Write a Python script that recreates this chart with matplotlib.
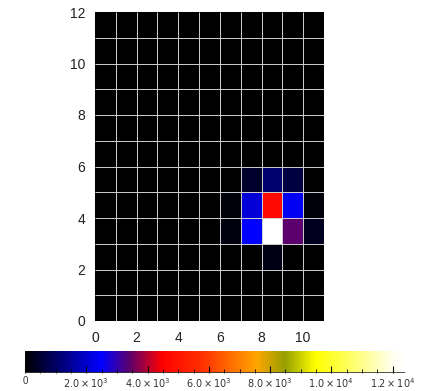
import numpy as np
import matplotlib
matplotlib.use("Agg")
import matplotlib.pyplot as plt
from matplotlib.colors import LinearSegmentedColormap
from matplotlib.ticker import MultipleLocator

plt.rcParams['font.family'] = ['Liberation Sans', 'DejaVu Sans']

# grid size: 11 columns (x 0..11), 12 rows (y 0..12)
n_cols = 11
n_rows = 12

# non-zero cells (column, row, value)
hot_cols = [8, 8, 7, 7, 9, 9, 8, 7, 9, 10, 10, 6, 6, 8]
hot_rows = [3, 4, 4, 3, 4, 3, 5, 5, 5, 3, 4, 3, 4, 2]
hot_vals = [12400, 4700, 2100, 2500, 2400, 3400, 1080, 440, 640, 300, 100, 150, 100, 200]

vmax = 12400
cbar_ticks = [0, 2000, 4000, 6000, 8000, 10000, 12000]
cbar_labels = ['0', r'$2.0\times10^3$', r'$4.0\times10^3$', r'$6.0\times10^3$',
               r'$8.0\times10^3$', r'$1.0\times10^4$', r'$1.2\times10^4$']

grid = np.zeros((n_rows, n_cols))
for c, r, v in zip(hot_cols, hot_rows, hot_vals):
    grid[r, c] = v

# black -> blue -> purple -> red -> orange -> olive -> yellow -> white
stops = [
    (0.00, (0, 0, 0)),
    (0.20, (0, 0, 255)),
    (0.274, (90, 0, 110)),
    (0.36, (255, 0, 0)),
    (0.47, (255, 50, 0)),
    (0.61, (255, 165, 0)),
    (0.685, (150, 160, 0)),
    (0.766, (255, 255, 0)),
    (0.85, (255, 255, 90)),
    (0.97, (255, 255, 240)),
    (1.00, (255, 255, 255)),
]
cmap = LinearSegmentedColormap.from_list(
    'heat', [(p, tuple(ch / 255 for ch in rgb)) for p, rgb in stops])

fig = plt.figure(figsize=(4.27, 3.91), dpi=100)
ax = fig.add_axes([95 / 427, 70 / 391, 229 / 427, 309 / 391])

mesh = ax.pcolormesh(np.arange(n_cols + 1), np.arange(n_rows + 1), grid,
                     cmap=cmap, vmin=0, vmax=vmax)
ax.set_xlim(0, n_cols)
ax.set_ylim(0, n_rows)
ax.vlines(np.arange(1, n_cols), 0, n_rows, color='#d0d0d0', lw=0.7)
ax.hlines(np.arange(1, n_rows), 0, n_cols, color='#d0d0d0', lw=0.7)
ax.set_xticks(range(0, 11, 2))
ax.set_yticks(range(0, 13, 2))
ax.tick_params(length=0, labelsize=10, labelcolor='#222222')
ax.tick_params(axis='x', pad=7)
ax.tick_params(axis='y', pad=7)
for s in ax.spines.values():
    s.set_visible(False)

cax = fig.add_axes([25 / 427, 18 / 391, 380 / 427, 22 / 391])
cb = fig.colorbar(mesh, cax=cax, orientation='horizontal')
cb.outline.set_visible(False)
cb.set_ticks(cbar_ticks)
cb.set_ticklabels(cbar_labels)
cax.xaxis.set_minor_locator(MultipleLocator(500))
cax.tick_params(which='major', direction='in', length=5, width=0.8,
                labelsize=7, labelcolor='#333333', pad=2)
cax.tick_params(which='minor', direction='in', length=3, width=0.6)
cax.axhline(0, color='#333333', lw=1.2)

fig.savefig('out.png', dpi=100)
